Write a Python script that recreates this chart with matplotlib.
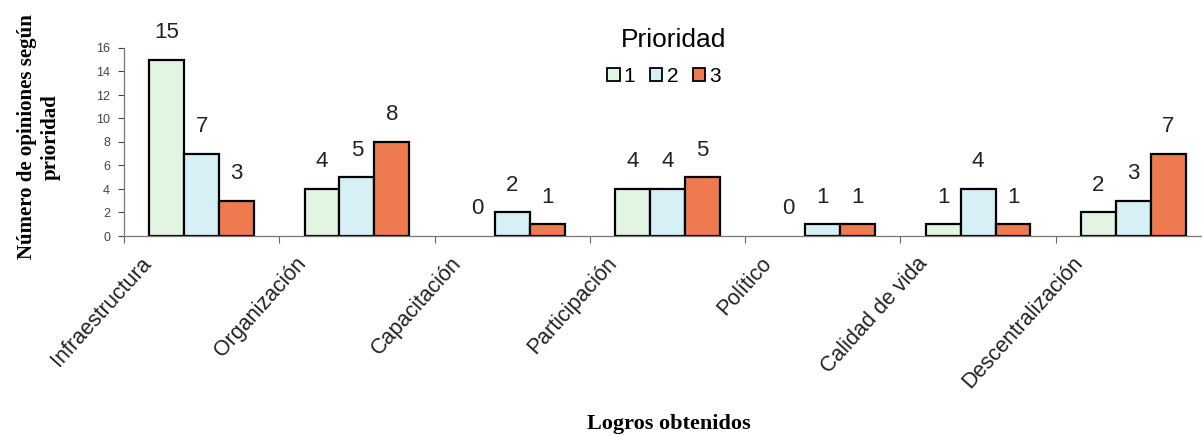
import matplotlib
matplotlib.use('Agg')
import matplotlib.pyplot as plt
import matplotlib.transforms as mtransforms
import numpy as np

plt.rcParams['font.family'] = ['Liberation Sans', 'DejaVu Sans']

categorias = ['Infraestructura', 'Organización', 'Capacitación', 'Participación',
              'Político', 'Calidad de vida', 'Descentralización']
prioridad_1 = [15, 4, 0, 4, 0, 1, 2]
prioridad_2 = [7, 5, 2, 4, 1, 4, 3]
prioridad_3 = [3, 8, 1, 5, 1, 1, 7]
series = [('1', prioridad_1, '#e2f5e3'),
          ('2', prioridad_2, '#d6f0f5'),
          ('3', prioridad_3, '#ee7a4f')]

W, H = 1202, 436
fig = plt.figure(figsize=(W / 100, H / 100), dpi=100)
ax = fig.add_axes([124 / W, 200 / H, (1211 - 124) / W, 188 / H])

x = np.arange(len(categorias))
width = 0.225
for i, (lab, vals, col) in enumerate(series):
    bars = ax.bar(x + (i - 1) * width, vals, width, color=col,
                  edgecolor='black', linewidth=1.6, label=lab)
    for b in bars:
        if b.get_height() == 0:
            b.set_linewidth(0)
    ax.bar_label(bars, padding=12, fontsize=16, color='#222222')

ax.set_xlim(-0.5, len(categorias) - 0.5)
ax.set_ylim(0, 16)
ax.set_yticks(range(0, 17, 2))
ax.tick_params(axis='y', labelsize=9, colors='#444444', length=4, width=0.8, pad=6)

ax.set_xticks(x)
ax.set_xticks(np.arange(-0.5, len(categorias)), minor=True)
ax.tick_params(axis='x', which='major', length=0)
ax.tick_params(axis='x', which='minor', length=5, width=0.8, color='#666666')
ax.set_xticklabels(categorias, rotation=48, ha='right', va='top',
                   rotation_mode='anchor', fontsize=15.5, color='#222222')
shift = mtransforms.ScaledTranslation(-0.62, -0.12, fig.dpi_scale_trans)
for t in ax.get_xticklabels():
    t.set_transform(t.get_transform() + shift)

for s in ['top', 'right']:
    ax.spines[s].set_visible(False)
for s in ['left', 'bottom']:
    ax.spines[s].set_color('#777777')
    ax.spines[s].set_linewidth(0.9)

fig.text(39 / W, 1 - 137 / H, 'Número de opiniones según\nprioridad',
         rotation=90, ha='center', va='center', fontsize=15,
         fontweight='bold', family='Liberation Serif', linespacing=1.2)
fig.text(669 / W, 1 - 424 / H, 'Logros obtenidos', ha='center', va='center',
         fontsize=16, fontweight='bold', family='Liberation Serif')

leg = ax.legend(loc='center', bbox_to_anchor=(664 / W, 1 - 59 / H),
                bbox_transform=fig.transFigure, ncol=3, frameon=False,
                title='Prioridad', title_fontsize=19, fontsize=15,
                handlelength=0.6, handleheight=0.6, handletextpad=0.2,
                columnspacing=0.7)
for h in leg.legend_handles:
    h.set_linewidth(1.3)
leg.get_title().set_position((10, 4))

fig.savefig('out.png', dpi=100)
